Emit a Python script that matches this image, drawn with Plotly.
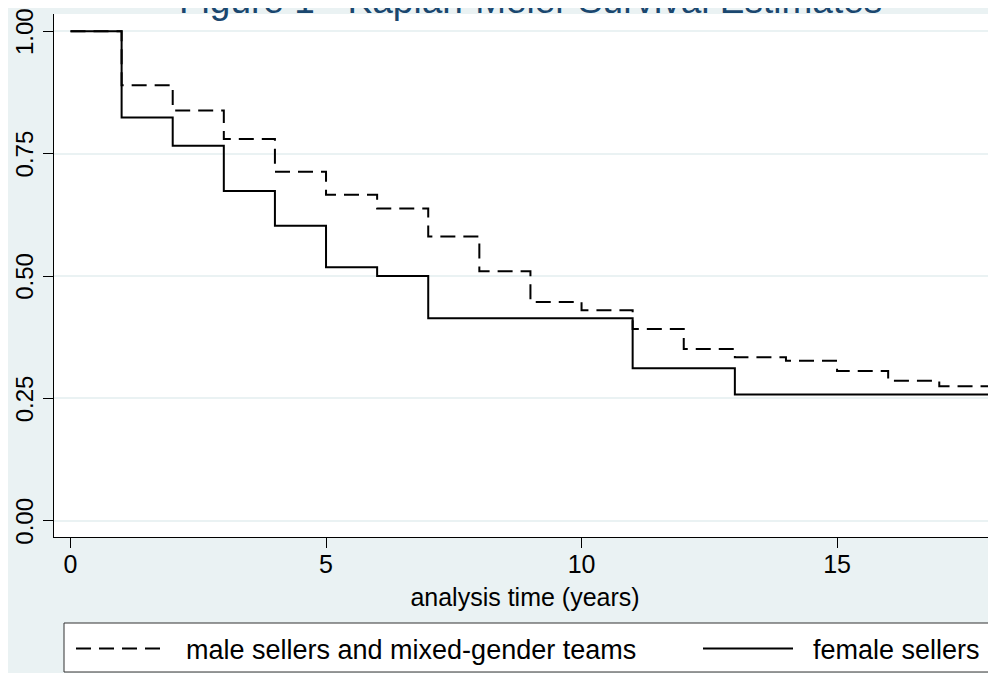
import plotly.graph_objects as go

# ---- data ----
years = list(range(0, 19))
male_surv = [1.000, 0.890, 0.838, 0.780, 0.713, 0.666, 0.638, 0.581, 0.510,
             0.447, 0.430, 0.392, 0.351, 0.334, 0.327, 0.306, 0.286, 0.275, 0.275]
female_surv = [1.000, 0.824, 0.766, 0.674, 0.603, 0.518, 0.500, 0.414, 0.414,
               0.414, 0.414, 0.312, 0.312, 0.258, 0.258, 0.258, 0.258, 0.258, 0.258]
male_name = "male sellers and mixed-gender teams"
female_name = "female sellers"
title_text = "Figure 1 - Kaplan-Meier Survival Estimates"
x_title = "analysis time (years)"
x_ticks = [0, 5, 10, 15]
y_ticks = [0.00, 0.25, 0.50, 0.75, 1.00]
y_ticklabels = ["0.00", "0.25", "0.50", "0.75", "1.00"]

BG = "#EAF2F3"
NAVY = "#1A476F"
FONT = "Liberation Sans, Arial, Helvetica, sans-serif"
GAP = "\u00a0\u00a0"

# page offset of the figure (browser body margin)
OFF = 8
W, H = 996 - OFF, 673 - OFF
# plot area in page pixels: x 54..996, y 14..537
L = 54 - OFF
T = 14 - OFF
B = H - (537 - OFF)
pw, ph = W - L, H - T - B


def px2x(px):
    return (px - OFF - L) / pw


def py2y(py):
    return (T + ph - (py - OFF)) / ph


fig = go.Figure()
fig.add_trace(go.Scatter(
    x=years, y=male_surv, mode="lines", name=GAP + male_name,
    line=dict(color="black", width=2, dash="15px,8px", shape="hv"),
    legend="legend",
))
fig.add_trace(go.Scatter(
    x=years, y=female_surv, mode="lines", name=GAP + female_name,
    line=dict(color="black", width=2, shape="hv"),
    legend="legend2",
))

fig.update_layout(
    width=W, height=H,
    margin=dict(l=L, r=0, t=T, b=B, pad=0, autoexpand=False),
    paper_bgcolor=BG, plot_bgcolor="white",
    font=dict(family=FONT, color="black", size=25),
    showlegend=True,
    legend=dict(orientation="h", x=px2x(71), xanchor="left", y=py2y(649), yanchor="middle",
                bgcolor="rgba(0,0,0,0)", borderwidth=0, itemwidth=90,
                font=dict(size=27, family=FONT)),
    legend2=dict(orientation="h", x=px2x(698), xanchor="left", y=py2y(649), yanchor="middle",
                 bgcolor="rgba(0,0,0,0)", borderwidth=0, itemwidth=90,
                 font=dict(size=27, family=FONT)),
    xaxis=dict(
        range=[-0.323, 18.11], tickvals=x_ticks, ticks="outside", ticklen=10,
        tickcolor="black", tickwidth=1, showline=True, linecolor="black", linewidth=1,
        showgrid=False, zeroline=False, tickfont=dict(size=25), ticklabelstandoff=-5,
        ticklabeloverflow="allow", automargin=True,
        title=dict(text=x_title, font=dict(size=25), standoff=11),
    ),
    yaxis=dict(
        range=[-0.0329, 1.0353], tickvals=y_ticks, ticktext=y_ticklabels,
        tickangle=-90, ticks="outside", ticklen=10, tickcolor="black", tickwidth=1,
        showline=True, linecolor="black", linewidth=1,
        showgrid=True, gridcolor=BG, gridwidth=1.5, zeroline=False,
        tickfont=dict(size=24), ticklabeloverflow="allow", automargin=False,
        ticklabelshift=4,
    ),
    shapes=[dict(type="rect", xref="paper", yref="paper",
                 x0=px2x(64), x1=px2x(1010), y0=py2y(623), y1=py2y(672),
                 line=dict(color="#333333", width=1), fillcolor="white", layer="below")],
    annotations=[dict(text=title_text, xref="paper", yref="paper",
                      x=px2x(530), y=py2y(0), xanchor="center", yanchor="middle",
                      showarrow=False, font=dict(size=37, color=NAVY, family=FONT))],
)

fig.write_html("out.html")
